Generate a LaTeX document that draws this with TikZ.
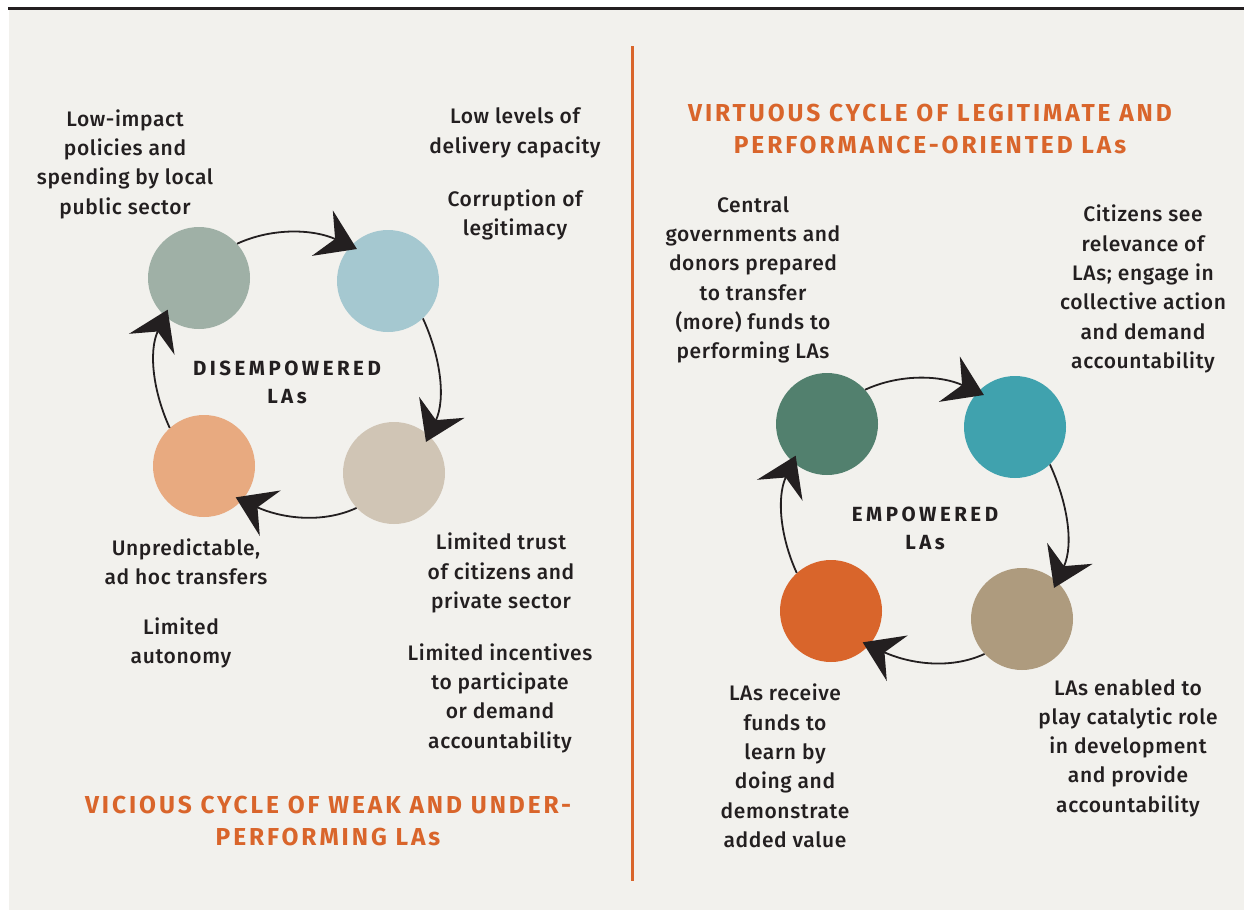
\documentclass[tikz,border=0pt]{standalone}
\usepackage{fontspec}
\setmainfont{Fira Sans}[UprightFont=* Medium, BoldFont=* Bold]
\usetikzlibrary{arrows.meta}

\definecolor{paper}{HTML}{F2F1ED}
\definecolor{ink}{HTML}{231F20}
\definecolor{rust}{HTML}{D9652B}
\definecolor{sage}{HTML}{9FB0A6}
\definecolor{skyblue}{HTML}{A5C8D0}
\definecolor{sand}{HTML}{D0C5B5}
\definecolor{peach}{HTML}{E8AA80}
\definecolor{pine}{HTML}{52806E}
\definecolor{teal}{HTML}{40A2AE}
\definecolor{khaki}{HTML}{AE9B7E}

\begin{document}
\begin{tikzpicture}[x=1pt,y=-1pt]
  \tikzset{
    blob/.style={circle, minimum size=102pt, inner sep=0pt},
    txt/.style={align=center, text=ink,
      font=\fontsize{21}{29.3}\selectfont\addfontfeature{LetterSpace=3}},
    heading/.style={align=center, text=rust,
      font=\fontsize{24.5}{31.5}\selectfont\bfseries\addfontfeature{LetterSpace=12}},
    cyclab/.style={align=center, text=ink,
      font=\fontsize{20.5}{28}\selectfont\bfseries\addfontfeature{LetterSpace=17}},
    flow/.style={draw=ink, line width=1.8pt, looseness=0.9, shorten >=-7pt,
      -{Stealth[length=38pt,width=50pt,inset=14pt]}}
  }
  \useasboundingbox (0,0) rectangle (1244,910);
  \fill[paper] (9,10) rectangle (1244,910);
  \fill[ink] (8,6.5) rectangle (1244,9.5);
  \draw[rust, line width=3pt] (632,46) -- (632,881);

  % left cycle
  \node[blob, fill=sage] (dtl) at (199,278) {};
  \node[blob, fill=skyblue] (dtr) at (388,281) {};
  \node[blob, fill=sand] (dbr) at (394,473) {};
  \node[blob, fill=peach] (dbl) at (204,466) {};
  \node[cyclab] (dis) at (287,382) {DISEMPOWERED\\LAs};
  \draw[flow] (dtl.42.6) to[out=24.7, in=155.3] (dtr.137.4);
  \draw[flow] (dtr.-47.4) to[out=-65.3, in=65.3] (dbr.47.4);
  \draw[flow] (dbr.-137.4) to[out=-155.3, in=-24.7] (dbl.-42.6);
  \draw[flow] (dbl.132.6) to[out=114.7, in=-114.7] (dtl.-132.6);

  \node[txt] (lowimpact) at (125,164) {Low-impact\\policies and\\spending by local\\public sector};
  \node[txt] (lowlevels) at (515,133) {Low levels of\\delivery capacity};
  \node[txt] (corruption) at (515,215) {Corruption of\\legitimacy};
  \node[txt] (unpredict) at (186,562) {Unpredictable,\\ad hoc transfers};
  \node[txt] (autonomy) at (181,643) {Limited\\autonomy};
  \node[txt] (trust) at (501,573) {Limited trust\\of citizens and\\private sector};
  \node[txt] (incentives) at (500,698) {Limited incentives\\to participate\\or demand\\accountability};
  \node[heading] (vicious) at (328,821) {VICIOUS CYCLE OF WEAK AND UNDER-\\PERFORMING LAs};

  % right cycle
  \node[blob, fill=pine] (etl) at (827,424) {};
  \node[blob, fill=teal] (etr) at (1015,427) {};
  \node[blob, fill=khaki] (ebr) at (1022,619) {};
  \node[blob, fill=rust] (ebl) at (831,611) {};
  \node[cyclab] (emp) at (925,528) {EMPOWERED\\LAs};
  \draw[flow] (etl.42.6) to[out=24.7, in=155.3] (etr.137.4);
  \draw[flow] (etr.-47.4) to[out=-65.3, in=65.3] (ebr.47.4);
  \draw[flow] (ebr.-137.4) to[out=-155.3, in=-24.7] (ebl.-42.6);
  \draw[flow] (ebl.132.6) to[out=114.7, in=-114.7] (etl.-132.6);

  \node[heading] (virtuous) at (930,129) {VIRTUOUS CYCLE OF LEGITIMATE AND\\PERFORMANCE-ORIENTED LAs};
  \node[txt] (central) at (753,280) {Central\\governments and\\donors prepared\\to transfer\\(more) funds to\\performing LAs};
  \node[txt] (citizens) at (1143,289) {Citizens see\\relevance of\\LAs; engage in\\collective action\\and demand\\accountability};
  \node[txt] (receive) at (785,766) {LAs receive\\funds to\\learn by\\doing and\\demonstrate\\added value};
  \node[txt] (enabled) at (1128,748) {LAs enabled to\\play catalytic role\\in development\\and provide\\accountability};
\end{tikzpicture}
\end{document}
